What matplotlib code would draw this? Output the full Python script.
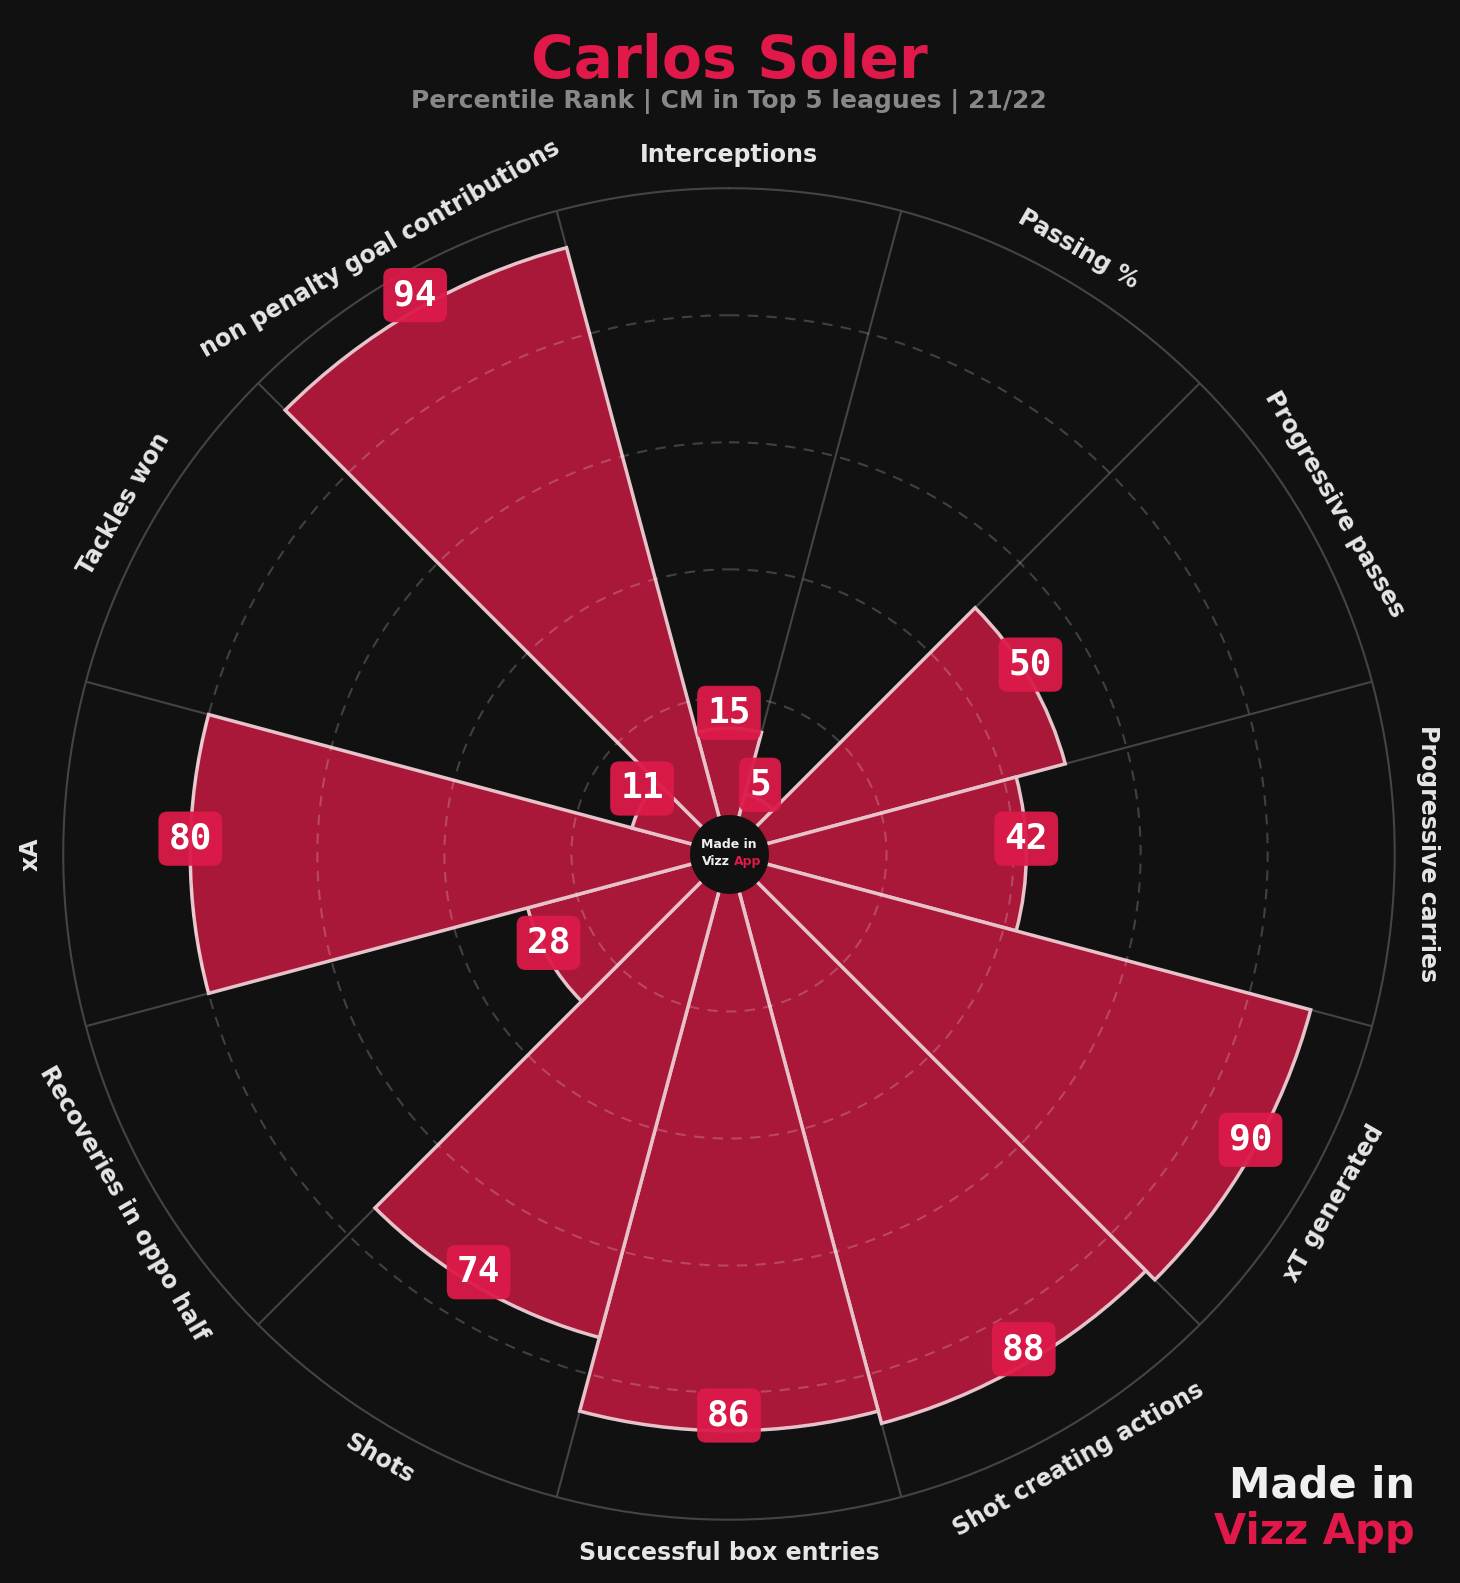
import numpy as np
import matplotlib.pyplot as plt

# Dados do gráfico (sentido horário a partir do topo)
categorias = ['Interceptions', 'Passing %', 'Progressive passes', 'Progressive carries',
              'xT generated', 'Shot creating actions', 'Successful box entries', 'Shots',
              'Recoveries in oppo half', 'xA', 'Tackles won', 'non penalty goal contributions']
valores = [15, 5, 50, 42, 90, 88, 86, 74, 28, 80, 11, 94]
aneis = [20, 40, 60, 80]

fundo = '#111111'
vermelho = '#e0194a'
barra = '#a91839'

fig = plt.figure(figsize=(14.6, 15.83), dpi=100, facecolor=fundo)
ax = fig.add_axes([0.0433, 0.0398, 0.912, 0.8415], projection='polar')
ax.set_facecolor(fundo)
ax.set_theta_zero_location('N')
ax.set_theta_direction(-1)
rmin, rmax = -4.8, 100
ax.set_ylim(rmin, rmax)
ax.grid(False)
ax.set_xticks([])
ax.set_yticks([])
ax.spines['polar'].set_visible(False)

n = len(valores)
larg = 2 * np.pi / n
theta = np.arange(n) * larg
t = np.linspace(0, 2 * np.pi, 500)

# Raios das fatias
for b in theta + larg / 2:
    ax.plot([b, b], [rmin, rmax], color='#444444', lw=1.5, zorder=1)
ax.plot(t, np.full_like(t, rmax), color='#444444', lw=1.5, zorder=1, clip_on=False)

# Barras
ax.bar(theta, valores, width=larg, bottom=0, color=barra, edgecolor='#e6c3ca',
       lw=2.5, zorder=3)

# Anéis tracejados
for r in aneis:
    ax.plot(t, np.full_like(t, r), color='white', alpha=0.2, lw=1.5,
            ls=(0, (5, 4)), zorder=4)

# Círculo central
ax.fill_between(t, rmin, 1.3, color=fundo, zorder=6)

# Rótulos dos valores (um pouco acima do topo de cada barra)
for th, v in zip(theta, valores):
    ax.annotate(str(v), (th, v), xytext=(0, 11), textcoords='offset points',
                ha='center', va='center', color='white', fontsize=26,
                fontweight='bold', family='DejaVu Sans Mono', zorder=8,
                bbox=dict(boxstyle='round,pad=0.28,rounding_size=0.25', fc='#dc1a48',
                          ec='none', alpha=0.95))

# Rótulos das categorias
for th, cat in zip(theta, categorias):
    a = np.rad2deg(th)
    rot = -a
    if 90 < a < 270:
        rot += 180
    ax.text(th, 105.2, cat, ha='center', va='center', rotation=rot,
            rotation_mode='anchor', color='#e6e6e6', fontsize=17, fontweight='bold',
            clip_on=False)

# Texto no centro
cx, cy = 0.4993, 0.4605
fig.text(cx, cy + 0.0058, 'Made in', ha='center', va='center', color='#eeeeee',
         fontsize=9, fontweight='bold', zorder=10)
fig.text(cx + 0.0008, cy - 0.0048, 'Vizz', ha='right', va='center', color='#eeeeee',
         fontsize=9, fontweight='bold', zorder=10)
fig.text(cx + 0.0035, cy - 0.0048, 'App', ha='left', va='center', color=vermelho,
         fontsize=9, fontweight='bold', zorder=10)

# Título
fig.text(0.4993, 0.961, 'Carlos Soler', ha='center', va='center', color=vermelho,
         fontsize=42, fontweight='bold')
fig.text(0.4993, 0.936, 'Percentile Rank | CM in Top 5 leagues | 21/22', ha='center',
         va='center', color='#888888', fontsize=18, fontweight='bold')

# Marca no canto
fig.text(0.969, 0.0613, 'Made in', ha='right', va='center', color='#f0f0f0',
         fontsize=30, fontweight='bold')
fig.text(0.969, 0.0322, 'Vizz App', ha='right', va='center', color=vermelho,
         fontsize=30, fontweight='bold')

fig.savefig('out.png', dpi=100, facecolor=fundo)
